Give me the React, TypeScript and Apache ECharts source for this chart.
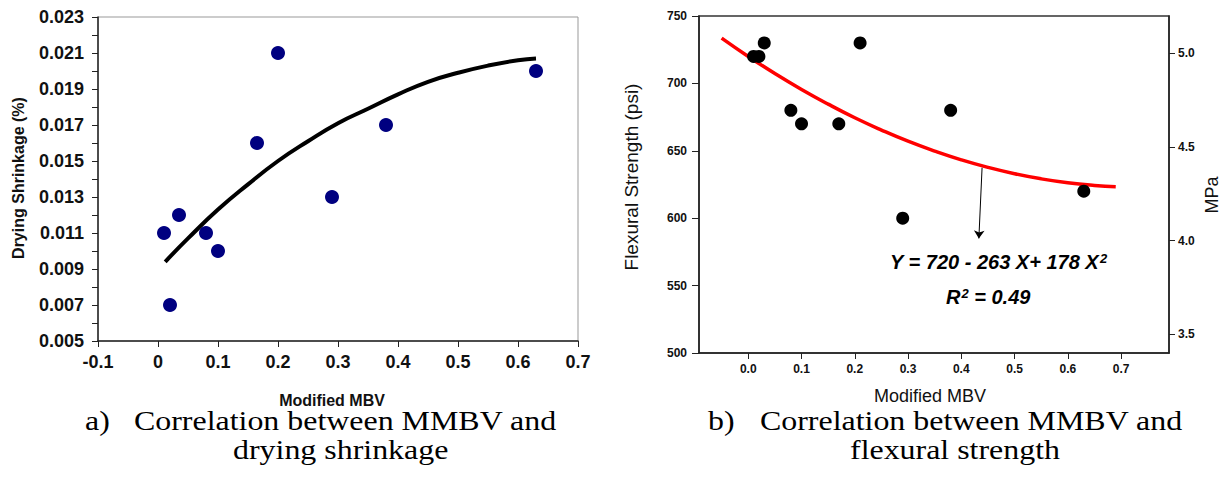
import React, { useEffect, useRef } from "react";
import * as echarts from "echarts";

// ---- Data: chart a) drying shrinkage ----
const shrinkMBV = [0.01, 0.02, 0.035, 0.08, 0.1, 0.165, 0.2, 0.29, 0.38, 0.63];
const shrinkValues = [0.011, 0.007, 0.012, 0.011, 0.01, 0.016, 0.021, 0.013, 0.017, 0.02];
const shrinkFitMBV = [0.012, 0.05, 0.1, 0.15, 0.2, 0.25, 0.3, 0.35, 0.4, 0.45, 0.5, 0.55, 0.6, 0.63];
const shrinkFitValues = [0.0094, 0.0107, 0.0123, 0.0137, 0.015, 0.0161, 0.0171, 0.0179, 0.0187, 0.0194, 0.0199, 0.0203, 0.0206, 0.0207];
const shrinkYTicks = [0.005, 0.006, 0.007, 0.008, 0.009, 0.01, 0.011, 0.012, 0.013, 0.014, 0.015, 0.016, 0.017, 0.018, 0.019, 0.02, 0.021, 0.022, 0.023];
const shrinkYLabels = [0.005, 0.007, 0.009, 0.011, 0.013, 0.015, 0.017, 0.019, 0.021, 0.023];

// ---- Data: chart b) flexural strength ----
const flexMBV = [0.01, 0.02, 0.03, 0.08, 0.1, 0.17, 0.21, 0.29, 0.38, 0.63];
const flexValues = [720, 720, 730, 680, 670, 670, 730, 600, 680, 620];
const flexFitMBV = [-0.05, 0, 0.05, 0.1, 0.15, 0.2, 0.25, 0.3, 0.35, 0.4, 0.45, 0.5, 0.55, 0.6, 0.65, 0.69];
const flexFitValues = [733.6, 720, 707.3, 695.5, 684.6, 674.5, 665.4, 657.1, 649.8, 643.3, 637.7, 633, 629.2, 626.3, 624.3, 623.3];
const flexXTicks = [0, 0.1, 0.2, 0.3, 0.4, 0.5, 0.6, 0.7];
const mpaTicks = [3.5, 4.0, 4.5, 5.0];
const arrowFrom = [0.439, 637.4];
const arrowTo = [0.433, 585];

const SANS = "Liberation Sans, Arial, sans-serif";
const SERIF = "Liberation Serif, Times New Roman, serif";

function caption(x: number, y: number, text: string) {
  return {
    type: "text", x, y, scaleX: 1.14,
    style: { text, font: `28px ${SERIF}`, lineHeight: 26, fill: "#000", align: "left", verticalAlign: "middle" },
  };
}

export default function App() {
  const ref = useRef<HTMLDivElement>(null);
  useEffect(() => {
    document.body.style.margin = "0";
    const chart = echarts.init(ref.current!, null, { renderer: "svg" });
    const supRich = {
      m: { font: `italic bold 20px ${SANS}`, fill: "#000" },
      s: { font: `italic bold 13px ${SANS}`, fill: "#000", verticalAlign: "top", padding: [0, 0, 8, 1] },
    };
    const option: any = {
      animation: false,
      backgroundColor: "#fff",
      grid: [
        { left: 98, top: 17, width: 480, height: 324, show: true, borderColor: "#999", borderWidth: 1 },
        { left: 699, top: 16, width: 470, height: 337, show: true, borderColor: "#333", borderWidth: 1.5 },
      ],
      xAxis: [
        {
          type: "value", gridIndex: 0, min: -0.1, max: 0.7, interval: 0.1,
          splitLine: { show: false },
          axisLine: { show: true, onZero: false, lineStyle: { color: "#222", width: 1.5 } },
          axisTick: { show: true, length: 6, lineStyle: { color: "#222" } },
          axisLabel: {
            margin: 12, color: "#111", fontFamily: SANS, fontWeight: "bold", fontSize: 18,
            formatter: (v: number) => String(Math.round(v * 10) / 10),
          },
        },
        {
          type: "value", gridIndex: 1, min: -0.0925, max: 0.79,
          splitLine: { show: false },
          axisLine: { show: true, onZero: false, lineStyle: { color: "#222", width: 1.5 } },
          axisTick: { show: true, length: 6, customValues: flexXTicks, lineStyle: { color: "#222" } },
          axisLabel: {
            margin: 10, color: "#111", fontFamily: SANS, fontWeight: "bold", fontSize: 12,
            customValues: flexXTicks,
            formatter: (v: number) => v.toFixed(1),
          },
        },
      ],
      yAxis: [
        {
          type: "value", gridIndex: 0, min: 0.005, max: 0.023,
          splitLine: { show: false },
          axisLine: { show: true, onZero: false, lineStyle: { color: "#222", width: 1.5 } },
          axisTick: { show: true, length: 6, customValues: shrinkYTicks, lineStyle: { color: "#222" } },
          axisLabel: {
            margin: 14, color: "#111", fontFamily: SANS, fontWeight: "bold", fontSize: 18,
            customValues: shrinkYLabels,
            formatter: (v: number) => v.toFixed(3),
          },
        },
        {
          type: "value", gridIndex: 1, min: 500, max: 750, interval: 50,
          splitLine: { show: false },
          axisLine: { show: true, onZero: false, lineStyle: { color: "#222", width: 1.5 } },
          axisTick: { show: true, length: 7, lineStyle: { color: "#222" } },
          axisLabel: { margin: 12, color: "#111", fontFamily: SANS, fontWeight: "bold", fontSize: 12 },
        },
        {
          type: "value", gridIndex: 1, position: "right", min: 3.4, max: 5.2,
          splitLine: { show: false },
          axisLine: { show: true, onZero: false, lineStyle: { color: "#222", width: 1.5 } },
          axisTick: { show: true, length: 6, customValues: mpaTicks, lineStyle: { color: "#222" } },
          axisLabel: {
            margin: 9, color: "#111", fontFamily: SANS, fontWeight: "bold", fontSize: 12,
            customValues: mpaTicks,
            formatter: (v: number) => v.toFixed(1),
          },
        },
      ],
      series: [
        {
          type: "line", xAxisIndex: 0, yAxisIndex: 0, smooth: true, showSymbol: false, symbol: "none",
          data: shrinkFitMBV.map((x, i) => [x, shrinkFitValues[i]]),
          lineStyle: { color: "#000", width: 4 }, z: 2,
        },
        {
          type: "scatter", xAxisIndex: 0, yAxisIndex: 0, symbolSize: 14,
          data: shrinkMBV.map((x, i) => [x, shrinkValues[i]]),
          itemStyle: { color: "#000080", opacity: 1 }, z: 3,
        },
        {
          type: "line", xAxisIndex: 1, yAxisIndex: 1, smooth: true, showSymbol: false, symbol: "none",
          data: flexFitMBV.map((x, i) => [x, flexFitValues[i]]),
          lineStyle: { color: "#ff0000", width: 3.5 }, z: 2,
          markLine: {
            silent: true, animation: false,
            symbol: ["none", "arrow"], symbolSize: 8,
            label: { show: false },
            lineStyle: { color: "#000", width: 1, type: "solid" },
            emphasis: { disabled: true },
            data: [[{ coord: arrowFrom }, { coord: arrowTo }]],
          },
        },
        {
          type: "scatter", xAxisIndex: 1, yAxisIndex: 1, symbolSize: 13,
          data: flexMBV.map((x, i) => [x, flexValues[i]]),
          itemStyle: { color: "#000", opacity: 1 }, z: 3,
        },
      ],
      graphic: [
        { type: "text", x: 18, y: 178, rotation: Math.PI / 2,
          style: { text: "Drying Shrinkage (%)", font: `bold 16px ${SANS}`, fill: "#111", align: "center", verticalAlign: "middle" } },
        { type: "text", x: 332, y: 400,
          style: { text: "Modified MBV", font: `bold 16px ${SANS}`, lineHeight: 14, fill: "#111", align: "center", verticalAlign: "middle" } },
        { type: "text", x: 631, y: 177, rotation: Math.PI / 2,
          style: { text: "Flexural Strength (psi)", font: `19px ${SANS}`, fill: "#111", align: "center", verticalAlign: "middle" } },
        { type: "text", x: 1212, y: 195, rotation: Math.PI / 2,
          style: { text: "MPa", font: `18px ${SANS}`, fill: "#111", align: "center", verticalAlign: "middle" } },
        { type: "text", x: 930, y: 396,
          style: { text: "Modified MBV", font: `18px ${SANS}`, lineHeight: 16, fill: "#111", align: "center", verticalAlign: "middle" } },
        { type: "text", x: 890, y: 262,
          style: { text: "{m|Y = 720 - 263 X+ 178 X}{s|2}", align: "left", verticalAlign: "middle", rich: supRich } },
        { type: "text", x: 946, y: 297,
          style: { text: "{m|R}{s|2}{m| = 0.49}", align: "left", verticalAlign: "middle", rich: supRich } },
        caption(85, 420, "a)"),
        caption(134, 420, "Correlation between MMBV and"),
        caption(233, 449, "drying shrinkage"),
        caption(708, 420, "b)"),
        caption(760, 420, "Correlation between MMBV and"),
        caption(850, 449, "flexural strength"),
      ],
    };
    chart.setOption(option);
    return () => chart.dispose();
  }, []);
  return <div ref={ref} style={{ width: 1228, height: 481 }} />;
}
